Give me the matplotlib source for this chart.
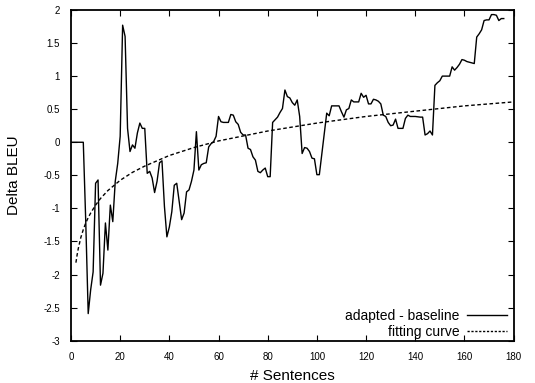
import matplotlib
matplotlib.use("Agg")
import matplotlib.pyplot as plt

plt.rcParams['font.family'] = ['Liberation Sans', 'DejaVu Sans']

# adapted - baseline series
sent_x = [0, 5, 6, 7, 8, 9, 10, 11, 12, 13, 14, 15, 16, 17, 18, 19, 20,
          21, 22, 23, 24, 25, 26, 27, 28, 29, 30, 31, 32, 33, 34, 35, 36,
          37, 38, 39, 40, 41, 42, 43, 44, 45, 46, 47, 48, 49, 50, 51, 52,
          53, 54, 55, 56, 57, 58, 59, 60, 61, 62, 63, 64, 65, 66, 67, 68,
          69, 70, 71, 72, 73, 74, 75, 76, 77, 78, 79, 80, 81, 82, 83, 84,
          85, 86, 87, 88, 89, 90, 91, 92, 93, 94, 95, 96, 97, 98, 99, 100,
          101, 104, 105, 106, 107, 108, 109, 110, 111, 112, 113, 114, 115,
          116, 117, 118, 119, 120, 121, 122, 123, 124, 125, 126, 127, 128,
          129, 130, 131, 132, 133, 134, 135, 136, 137, 138, 139, 140, 142,
          143, 144, 145, 146, 147, 148, 149, 150, 151, 152, 153, 154, 155,
          156, 157, 158, 159, 160, 161, 162, 163, 164, 165, 166, 167, 168,
          169, 170, 171, 172, 173, 174, 175, 176]
delta_bleu = [0, 0, -1.2, -2.59, -2.23, -1.96, -0.62, -0.57, -2.16, -1.98,
              -1.22, -1.63, -0.95, -1.2, -0.59, -0.32, 0.09, 1.77, 1.6, 0.21,
              -0.14, -0.04, -0.09, 0.14, 0.29, 0.21, 0.21, -0.47, -0.44,
              -0.54, -0.76, -0.59, -0.31, -0.28, -0.97, -1.43, -1.28, -1.05,
              -0.65, -0.62, -0.9, -1.17, -1.07, -0.75, -0.72, -0.59, -0.42,
              0.16, -0.42, -0.34, -0.32, -0.31, -0.07, -0.02, 0.01, 0.09,
              0.39, 0.31, 0.30, 0.30, 0.30, 0.42, 0.41, 0.31, 0.27, 0.15,
              0.11, 0.11, -0.09, -0.11, -0.22, -0.27, -0.44, -0.46, -0.42,
              -0.39, -0.52, -0.52, 0.30, 0.34, 0.38, 0.45, 0.51, 0.79, 0.69,
              0.67, 0.60, 0.56, 0.64, 0.39, -0.17, -0.08, -0.09, -0.14,
              -0.24, -0.25, -0.49, -0.49, 0.44, 0.40, 0.55, 0.55, 0.55, 0.55,
              0.46, 0.38, 0.49, 0.51, 0.64, 0.61, 0.61, 0.61, 0.74, 0.68,
              0.71, 0.58, 0.58, 0.65, 0.64, 0.62, 0.58, 0.41, 0.39, 0.30,
              0.25, 0.26, 0.35, 0.21, 0.21, 0.21, 0.36, 0.41, 0.39, 0.39,
              0.39, 0.38, 0.38, 0.11, 0.13, 0.17, 0.11, 0.86, 0.90, 0.93,
              1.00, 1.00, 1.00, 1.00, 1.14, 1.09, 1.13, 1.18, 1.25, 1.24,
              1.22, 1.21, 1.20, 1.19, 1.59, 1.64, 1.70, 1.84, 1.85, 1.85,
              1.93, 1.93, 1.92, 1.84, 1.87, 1.87]

# fitting curve
fit_x = [2, 2.5, 3, 3.5, 4, 5, 6, 7, 8, 10, 12, 15, 20, 25, 30, 40, 50, 60,
         80, 100, 120, 140, 160, 180]
fit_y = [-1.82, -1.70, -1.60, -1.52, -1.44, -1.32, -1.22, -1.14, -1.07,
         -0.95, -0.85, -0.73, -0.575, -0.455, -0.36, -0.20, -0.08, 0.02,
         0.17, 0.29, 0.39, 0.47, 0.55, 0.61]

x_ticks = [0, 20, 40, 60, 80, 100, 120, 140, 160, 180]
y_ticks = [-3, -2.5, -2, -1.5, -1, -0.5, 0, 0.5, 1, 1.5, 2]
y_tick_labels = ['-3', '-2.5', '-2', '-1.5', '-1', '-0.5', '0', '0.5', '1', '1.5', '2']

fig = plt.figure(figsize=(5.35, 3.83), dpi=100)
ax = fig.add_axes([0.1327, 0.1104, 0.8273, 0.8636])

ax.plot(sent_x, delta_bleu, color='black', lw=1.0, label='adapted - baseline')
ax.plot(fit_x, fit_y, color='black', lw=1.0, linestyle=(0, (2.6, 1.8)),
        label='fitting curve')

ax.set_xlim(0, 180)
ax.set_ylim(-3, 2)
ax.set_xticks(x_ticks)
ax.set_yticks(y_ticks)
ax.set_yticklabels(y_tick_labels)
ax.tick_params(direction='in', top=True, right=True, length=4, width=0.8,
               labelsize=7, pad=8)
for s in ax.spines.values():
    s.set_linewidth(1.3)

ax.set_xlabel('# Sentences', fontsize=11, labelpad=5)
ax.set_ylabel('Delta BLEU', fontsize=11, labelpad=16)

leg = ax.legend(loc='lower right', bbox_to_anchor=(0.99, 0.0), frameon=False,
                markerfirst=False, fontsize=10, handlelength=2.9,
                handletextpad=0.5, labelspacing=0.1, borderaxespad=0.05,
                borderpad=0.1)
leg.get_lines()[1].set_linestyle((0, (1.6, 1.2)))

fig.savefig('out.png', dpi=100)
